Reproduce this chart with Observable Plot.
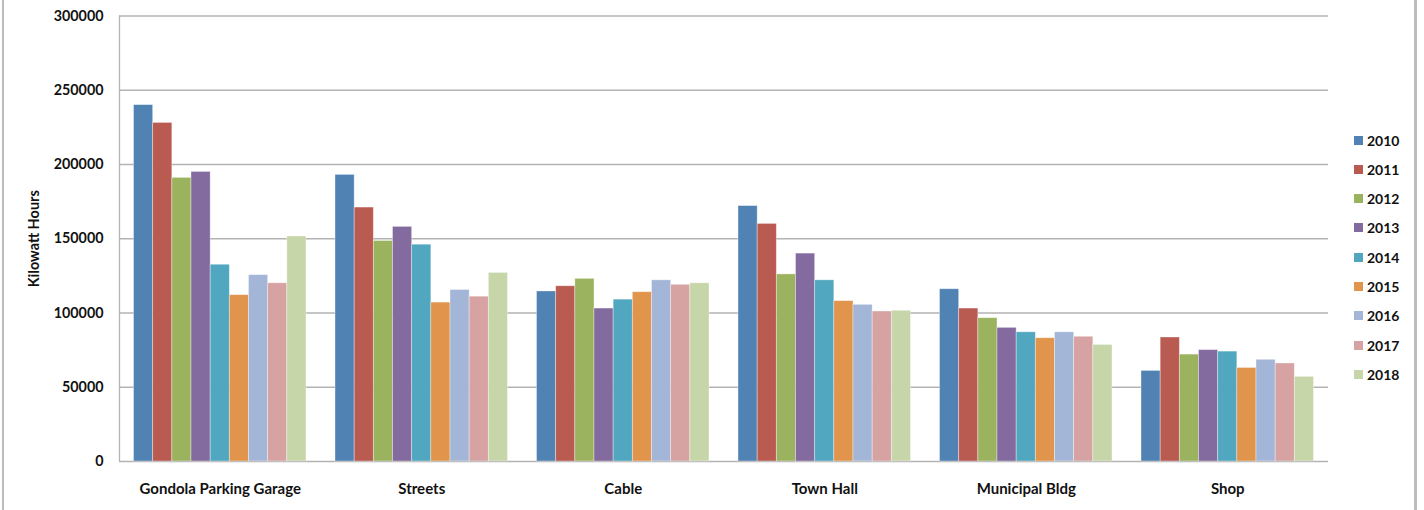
<!DOCTYPE html>
<html>
<head>
<meta charset="utf-8">
<script src="https://cdn.jsdelivr.net/npm/d3@7"></script>
<script src="https://cdn.jsdelivr.net/npm/@observablehq/plot@0.6"></script>
<style>
  html, body { margin: 0; padding: 0; background: #fff; }
  #chart { position: relative; width: 1424px; height: 510px; overflow: hidden; font-family: Lato, "Open Sans", sans-serif; }
  #chart svg { position: absolute; left: 0; top: 0; }
  .edge { position: absolute; top: 0; height: 510px; background: #bdbdbd; }
  .legend { position: absolute; left: 1354px; top: 0; }
  .legend-item { position: absolute; left: 0; height: 16px; display: flex; align-items: center; white-space: nowrap; }
  .legend-item span.sw { width: 9px; height: 9px; display: inline-block; margin-right: 4px; }
  .legend-item span.lb { font: bold 14px Lato, "Open Sans", sans-serif; color: #111; }
</style>
</head>
<body>
<div id="chart"></div>
<script>
// Annual electricity use by facility, in kilowatt hours
const categories = ["Gondola Parking Garage", "Streets", "Cable", "Town Hall", "Municipal Bldg", "Shop"];
const years = ["2010", "2011", "2012", "2013", "2014", "2015", "2016", "2017", "2018"];

const kwh2010 = [240000, 193000, 114500, 172000, 116000, 61000];
const kwh2011 = [228000, 171000, 118000, 160000, 103000, 83500];
const kwh2012 = [191000, 148500, 123000, 126000, 96500, 72000];
const kwh2013 = [195000, 158000, 103000, 140000, 90000, 75000];
const kwh2014 = [132500, 146000, 109000, 122000, 87000, 74000];
const kwh2015 = [112000, 107000, 114000, 108000, 83000, 63000];
const kwh2016 = [125500, 115500, 122000, 105500, 87000, 68500];
const kwh2017 = [120000, 111000, 119000, 101000, 84000, 66000];
const kwh2018 = [151500, 127000, 120000, 101500, 78500, 57000];

const yTicks = [0, 50000, 100000, 150000, 200000, 250000, 300000];
const yearColors = ["#5082b4", "#ba5b51", "#9bb35e", "#836a9f", "#50a7bf", "#e0944c", "#a3b6d7", "#d6a2a2", "#c7d6a9"];

const seriesByYear = [kwh2010, kwh2011, kwh2012, kwh2013, kwh2014, kwh2015, kwh2016, kwh2017, kwh2018];

const rows = categories.flatMap((category, i) =>
  years.map((year, j) => ({category, catIndex: i, yearIndex: j, year, kwh: seriesByYear[j][i]}))
);

// Each facility occupies one unit on x; its bars are packed side by side in the middle
const groupPad = 0.072;
const barStep = (1 - 2 * groupPad) / years.length;

const W = 1424, H = 510;
const plot = Plot.plot({
  width: W,
  height: H,
  marginLeft: 119,
  marginRight: 96,
  marginTop: 15.5,
  marginBottom: 49,
  style: {fontFamily: "Lato, 'Open Sans', sans-serif", background: "transparent", overflow: "visible"},
  x: {domain: [0, categories.length], axis: null},
  y: {domain: [0, 300000], axis: null},
  color: {domain: years, range: yearColors},
  marks: [
    Plot.ruleY(yTicks, {stroke: "#b3b3b3", strokeWidth: 1.3}),
    Plot.ruleX([0], {stroke: "#b3b3b3", strokeWidth: 1.3}),
    Plot.rectY(rows, {
      x1: d => d.catIndex + groupPad + d.yearIndex * barStep,
      x2: d => d.catIndex + groupPad + (d.yearIndex + 1) * barStep,
      y: "kwh",
      fill: "year",
      stroke: "white",
      strokeOpacity: 0.45,
      strokeWidth: 0.8
    }),
    Plot.axisY({
      ticks: yTicks,
      tickFormat: d => String(d),
      tickSize: 0,
      tickPadding: 16,
      fontSize: 14.3,
      fontWeight: "bold",
      fill: "#111",
      label: "Kilowatt Hours",
      labelAnchor: "center",
      labelOffset: 91,
      labelArrow: "none"
    }),
    Plot.axisX(categories.map((c, i) => i + 0.5), {
      tickFormat: d => categories[Math.floor(d)],
      tickSize: 0,
      tickPadding: 22,
      fontSize: 15,
      fontWeight: "bold",
      fill: "#111",
      label: null
    })
  ]
});

const chart = document.getElementById("chart");
chart.appendChild(plot);

// bold axis title
d3.select(plot).selectAll("g[aria-label='y-axis label'] text").attr("font-size", 14.5).attr("font-weight", "bold").attr("fill", "#111");

// Frame edges of the chart sheet
const leftEdge = document.createElement("div");
leftEdge.className = "edge";
leftEdge.style.left = "2px"; leftEdge.style.width = "1.5px";
chart.appendChild(leftEdge);
const rightEdge = document.createElement("div");
rightEdge.className = "edge";
rightEdge.style.left = "1414px"; rightEdge.style.width = "2.5px";
chart.appendChild(rightEdge);

// Year legend, one row per series
const color = plot.scale("color");
const legend = d3.select(chart).append("div").attr("class", "legend");
color.domain.forEach((yr, k) => {
  const item = legend.append("div").attr("class", "legend-item").style("top", (132 + k * 29.3) + "px");
  item.append("span").attr("class", "sw").style("background", color.apply(yr));
  item.append("span").attr("class", "lb").text(yr);
});
</script>
</body>
</html>
